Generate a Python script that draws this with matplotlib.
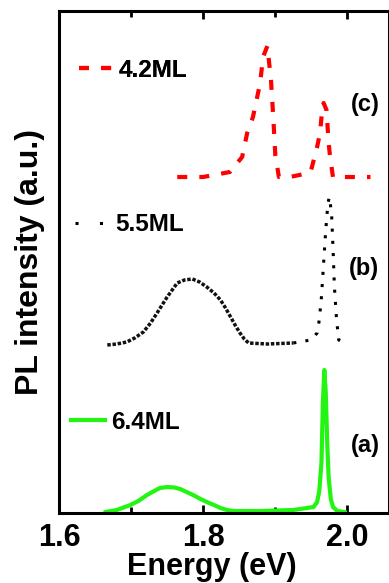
import matplotlib
matplotlib.use("Agg")
import matplotlib.pyplot as plt
from matplotlib.lines import Line2D
from matplotlib.ticker import MultipleLocator, FormatStrFormatter

plt.rcParams['font.family'] = ['Liberation Sans', 'DejaVu Sans']
plt.rcParams['font.weight'] = 'bold'

# (a) 6.4ML, green solid (offset 0)
xa = [1.664, 1.680, 1.699, 1.710, 1.722, 1.732, 1.740, 1.750, 1.760, 1.768, 1.777,
      1.786, 1.795, 1.805, 1.815, 1.824, 1.833, 1.842, 1.879, 1.925, 1.953, 1.958,
      1.961, 1.964, 1.966, 1.968, 1.970, 1.972, 1.974, 1.977, 1.980, 1.986, 1.997]
ya = [1, 3, 8, 12, 18, 22, 25, 26, 25.5, 24, 21,
      18, 14.5, 11, 8, 5, 3, 2, 2, 3, 6, 11,
      22, 50, 110, 143, 120, 70, 35, 14, 6, 2, 1]
off_a = 0

# (b) 5.5ML, black dotted
xb = [1.667, 1.680, 1.694, 1.705, 1.717, 1.727, 1.736, 1.743, 1.750, 1.757, 1.764,
      1.774, 1.785, 1.795, 1.805, 1.815, 1.824, 1.831, 1.838, 1.845, 1.851, 1.857,
      1.863, 1.889, 1.925, 1.949, 1.958, 1.961, 1.964, 1.967, 1.970, 1.973, 1.975,
      1.978, 1.980, 1.982, 1.985, 1.988, 2.000]
yb = [0, 1, 3, 7, 13, 22, 32, 40, 48, 55, 62,
      65, 66, 63, 58, 52, 45, 37, 28, 19, 12, 6,
      2, 1, 2, 5, 12, 25, 48, 82, 115, 142, 148,
      132, 98, 58, 25, 5, 0]
off_b = 168

# (c) 4.2ML, red dashed
xc = [1.764, 1.800, 1.837, 1.854, 1.861, 1.869, 1.879, 1.883, 1.889, 1.894, 1.897,
      1.900, 1.905, 1.920, 1.940, 1.949, 1.958, 1.962, 1.965, 1.967, 1.971, 1.974,
      1.976, 1.980, 2.000, 2.032]
yc = [0, 0, 5, 20, 44, 60, 94, 120, 131, 97, 62,
      22, 0, 0, 3, 5, 30, 44, 67, 74, 67, 34,
      20, 0, 0, 0]
off_c = 336

labels = ['6.4ML', '5.5ML', '4.2ML']
panel_tags = ['(a)', '(b)', '(c)']

W, H = 389, 583
fig = plt.figure(figsize=(W / 100, H / 100), dpi=100)
ax = fig.add_axes([59 / W, (H - 513) / H, 329.5 / W, 502 / H])

green = '#22f511'
ax.plot(xa, [v + off_a for v in ya], color=green, lw=3.0,
        solid_joinstyle='round', solid_capstyle='round')
# hump part dense dots, sharp peak sparse dots
nb = 25
ax.plot(xb[:nb], [v + off_b for v in yb[:nb]], color='#111111', lw=2.5,
        linestyle=(0, (1.0, 0.5)))
ax.plot(xb[nb - 1:], [v + off_b for v in yb[nb - 1:]], color='black', lw=2.2,
        linestyle=(0, (1.0, 3.0)))
ax.plot(xc, [v + off_c for v in yc], color='red', lw=3.0,
        linestyle=(0, (2.4, 2.9)))

ax.set_xlim(1.6, 2.057)
ax.set_ylim(0, 502)
ax.set_yticks([])
ax.xaxis.set_major_locator(MultipleLocator(0.2))
ax.xaxis.set_minor_locator(MultipleLocator(0.1))
ax.xaxis.set_major_formatter(FormatStrFormatter('%.1f'))
ax.tick_params(axis='x', which='both', direction='in', top=True, bottom=True,
               labelsize=22, pad=7, width=2)
ax.tick_params(axis='x', which='major', length=6)
ax.tick_params(axis='x', which='minor', length=4)
for s in ax.spines.values():
    s.set_linewidth(2.2)

ax.set_xlabel('Energy (eV)', fontsize=22, fontweight='bold', va='top')
ax.xaxis.set_label_coords(0.464, -0.077)
ax.set_ylabel('PL intensity (a.u.)', fontsize=23, fontweight='bold', labelpad=10)

# legends
h_c = Line2D([], [], color='red', lw=3.0, linestyle=(0, (2.4, 2.9)))
h_b = Line2D([], [], color='black', lw=2.2, linestyle=(0, (1.0, 7.0)))
h_a = Line2D([], [], color=green, lw=3.0)
legend_specs = [
    (h_a, labels[0], (0.035, 0.181)),
    (h_b, labels[1], (0.050, 0.574)),
    (h_c, labels[2], (0.060, 0.882)),
]
for h, lab, pos in legend_specs:
    lg = ax.legend([h], [lab], loc='center left', bbox_to_anchor=pos,
                   frameon=False, prop={'size': 17.5, 'weight': 'bold'},
                   handlelength=1.4, handletextpad=0.25, borderpad=0,
                   borderaxespad=0)
    ax.add_artist(lg)

tag_pos = [(0.93, 0.135), (0.925, 0.488), (0.93, 0.813)]
for t, (px, py) in zip(panel_tags, tag_pos):
    ax.text(px, py, t, transform=ax.transAxes, ha='center', va='center',
            fontsize=17, fontweight='bold')

fig.savefig('out.png', dpi=100)
